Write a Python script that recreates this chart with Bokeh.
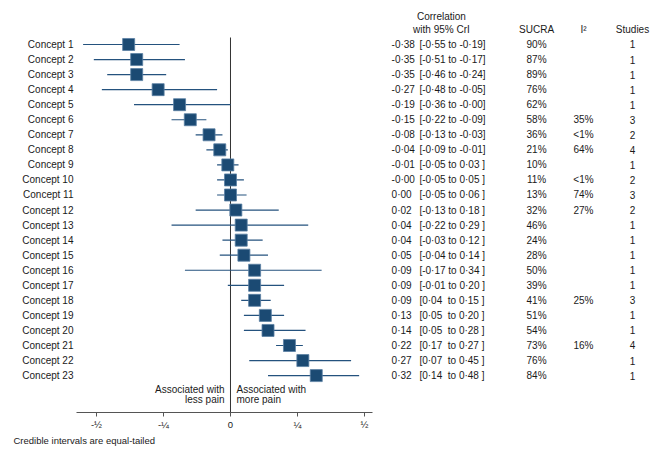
from bokeh.plotting import figure
from bokeh.models import Range1d, LinearAxis, FixedTicker, ColumnDataSource, Title
from bokeh.core.properties import value
from bokeh.embed import file_html
from bokeh.resources import INLINE

concepts = [f"Concept {i}" for i in range(1, 24)]
est = [-0.38, -0.35, -0.35, -0.27, -0.19, -0.15, -0.08, -0.04, -0.01, -0.00, 0.00, 0.02,
       0.04, 0.04, 0.05, 0.09, 0.09, 0.09, 0.13, 0.14, 0.22, 0.27, 0.32]
lo = [-0.55, -0.51, -0.46, -0.48, -0.36, -0.22, -0.13, -0.09, -0.05, -0.05, -0.05, -0.13,
      -0.22, -0.03, -0.04, -0.17, -0.01, 0.04, 0.05, 0.05, 0.17, 0.07, 0.14]
hi = [-0.19, -0.17, -0.24, -0.05, -0.00, -0.09, -0.03, -0.01, 0.03, 0.05, 0.06, 0.18,
      0.29, 0.12, 0.14, 0.34, 0.20, 0.15, 0.20, 0.28, 0.27, 0.45, 0.48]
est_txt = ["-0·38", "-0·35", "-0·35", "-0·27", "-0·19", "-0·15", "-0·08", "-0·04", "-0·01", "-0·00",
           "0·00", "0·02", "0·04", "0·04", "0·05", "0·09", "0·09", "0·09", "0·13", "0·14", "0·22",
           "0·27", "0·32"]
cri_txt = ["[-0·55 to -0·19]", "[-0·51 to -0·17]", "[-0·46 to -0·24]", "[-0·48 to -0·05]",
           "[-0·36 to -0·00]", "[-0·22 to -0·09]", "[-0·13 to -0·03]", "[-0·09 to -0·01]",
           "[-0·05 to 0·03 ]", "[-0·05 to 0·05 ]", "[-0·05 to 0·06 ]", "[-0·13 to 0·18 ]",
           "[-0·22 to 0·29 ]", "[-0·03 to 0·12 ]", "[-0·04 to 0·14 ]", "[-0·17 to 0·34 ]",
           "[-0·01 to 0·20 ]", "[0·04\u00a0 to 0·15 ]", "[0·05\u00a0 to 0·20 ]", "[0·05\u00a0 to 0·28 ]",
           "[0·17\u00a0 to 0·27 ]", "[0·07\u00a0 to 0·45 ]", "[0·14\u00a0 to 0·48 ]"]
sucra = ["90%", "87%", "89%", "76%", "62%", "58%", "36%", "21%", "10%", "11%", "13%", "32%",
         "46%", "24%", "28%", "50%", "39%", "41%", "51%", "54%", "73%", "76%", "84%"]
i2 = ["", "", "", "", "", "35%", "<1%", "64%", "", "<1%", "74%", "27%",
      "", "", "", "", "", "25%", "", "", "16%", "", ""]
studies = ["1", "1", "1", "1", "1", "3", "2", "4", "1", "2", "3", "2",
           "1", "1", "1", "1", "1", "3", "1", "1", "4", "1", "1"]
tick_vals = [-0.5, -0.25, 0, 0.25, 0.5]
tick_labels = ["-½", "-¼", "0", "¼", "½"]

rows = list(range(1, 24))
src = ColumnDataSource(dict(row=rows, concept=concepts, est=est, lo=lo, hi=hi,
                            est_txt=est_txt, cri_txt=cri_txt, sucra=sucra, i2=i2, studies=studies))

FONT = value("Liberation Sans")
TXT = "#1a1a1a"
Y_BOTTOM = 25.452

p = figure(width=660, height=450, output_backend="svg", toolbar_location=None,
           x_range=Range1d(-0.8582, 1.6045), y_range=Range1d(Y_BOTTOM, -1.9236),
           x_axis_type=None, y_axis_type=None, min_border_left=0, min_border_right=0,
           min_border_top=0, min_border_bottom=38, outline_line_color=None)
p.grid.visible = False

# zero line
p.segment(x0=[0], y0=[0.535], x1=[0], y1=[Y_BOTTOM], line_color="#333333", line_width=1)

# intervals and points
p.segment(x0="lo", y0="row", x1="hi", y1="row", source=src, line_color="#24527e", line_width=1.2)
p.scatter(x="est", y="row", source=src, marker="square", size=12,
          fill_color="#1b4a73", line_color="#5b80a3", line_width=0.8)

# labels
p.text(x=-0.586, y="row", text="concept", source=src, text_align="right", text_baseline="middle",
       text_font=FONT, text_font_size="10px", text_color=TXT)
p.text(x=0.601, y="row", text="est_txt", source=src, text_align="left", text_baseline="middle",
       text_font=FONT, text_font_size="10px", text_color=TXT)
p.text(x=0.705, y="row", text="cri_txt", source=src, text_align="left", text_baseline="middle",
       text_font=FONT, text_font_size="10px", text_color=TXT)
p.text(x=1.142, y="row", text="sucra", source=src, text_align="center", text_baseline="middle",
       text_font=FONT, text_font_size="10px", text_color=TXT)
p.text(x=1.317, y="row", text="i2", source=src, text_align="center", text_baseline="middle",
       text_font=FONT, text_font_size="10px", text_color=TXT)
p.text(x=1.5, y="row", text="studies", source=src, text_align="center", text_baseline="middle",
       text_font=FONT, text_font_size="10px", text_color=TXT)

# headers
p.text(x=[0.787, 0.787, 1.142, 1.317, 1.5], y=[-0.86, 0.0, 0.0, 0.0, 0.0],
       text=["Correlation", "with 95% CrI", "SUCRA", "I²", "Studies"],
       text_align="center", text_baseline="middle", text_font=FONT, text_font_size="10px",
       text_color=TXT)

# direction annotations
p.text(x=[-0.0224, -0.0224], y=[23.93, 24.6], text=["Associated with", "less pain"],
       text_align="right", text_baseline="middle", text_font=FONT, text_font_size="10px",
       text_color=TXT)
p.text(x=[0.0224, 0.0224], y=[23.93, 24.6], text=["Associated with", "more pain"],
       text_align="left", text_baseline="middle", text_font=FONT, text_font_size="10px",
       text_color=TXT)

ax = LinearAxis(ticker=FixedTicker(ticks=tick_vals),
                major_label_overrides={v: l for v, l in zip(tick_vals, tick_labels)})
ax.bounds = (-0.575, 0.53)
ax.axis_line_color = "#555555"
ax.major_tick_line_color = "#555555"
ax.major_tick_out = 4
ax.major_tick_in = 0
ax.minor_tick_line_color = None
ax.major_label_standoff = 2
ax.major_label_text_font = "Liberation Sans"
ax.major_label_text_font_size = "9.5px"
ax.major_label_text_color = TXT
p.add_layout(ax, "below")

foot = Title(text="Credible intervals are equal-tailed", align="left", offset=13,
             text_font="Liberation Sans", text_font_size="9.5px", text_font_style="normal",
             text_color=TXT, standoff=1)
p.add_layout(foot, "below")

open("out.html", "w").write(file_html(p, INLINE))
